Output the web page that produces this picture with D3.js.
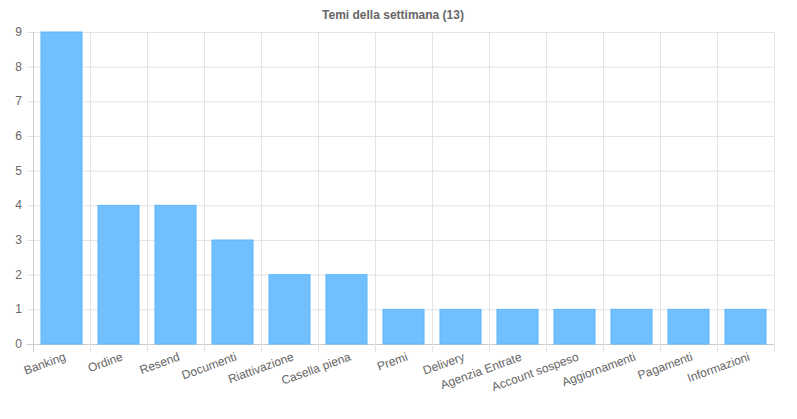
<!DOCTYPE html>
<html><head><meta charset="utf-8">
<script src="https://cdn.jsdelivr.net/npm/d3@7"></script>
<style>body{margin:0;background:#fff;font-family:"Liberation Sans",Arial,sans-serif}</style>
</head><body><svg id="c" width="797" height="419"></svg>
<script>
var categories = ['Banking','Ordine','Resend','Documenti','Riattivazione','Casella piena','Premi','Delivery','Agenzia Entrate','Account sospeso','Aggiornamenti','Pagamenti','Informazioni'];
var values = [9,4,4,3,2,2,1,1,1,1,1,1,1];
var yTicks = [0,1,2,3,4,5,6,7,8,9];

(function(){
var svg = d3.select('#c');
var plotLeft = 33, plotRight = 774, plotTop = 32, plotBottom = 344;
var x = d3.scaleBand().domain(categories).range([plotLeft, plotRight]).paddingInner(0.28).paddingOuter(0.14);
var xg = d3.scaleBand().domain(categories).range([plotLeft, plotRight]);
var y = d3.scaleLinear().domain([0, 9]).range([plotBottom, plotTop]);

svg.append('text').attr('x', 393).attr('y', 19).attr('text-anchor', 'middle')
  .attr('font-size', 12).attr('font-weight', 'bold').attr('fill', '#666').text('Temi della settimana (13)');

// horizontal grid
svg.selectAll('.hg').data(yTicks).enter().append('line')
  .attr('x1', plotLeft - 6).attr('x2', plotRight).attr('y1', d => y(d) + 0.5).attr('y2', d => y(d) + 0.5)
  .attr('stroke', d => d === 0 ? '#ccc' : '#e4e4e4');
// vertical grid
var vx = categories.map(c => xg(c)).concat([plotRight]);
svg.selectAll('.vg').data(vx).enter().append('line')
  .attr('x1', d => Math.round(d) + 0.5).attr('x2', d => Math.round(d) + 0.5)
  .attr('y1', plotTop).attr('y2', plotBottom + 8)
  .attr('stroke', (d, i) => i === 0 ? '#ccc' : '#e4e4e4');

svg.selectAll('.yt').data(yTicks).enter().append('text')
  .attr('x', plotLeft - 11).attr('y', d => y(d) + 4).attr('text-anchor', 'end')
  .attr('font-size', 12).attr('fill', '#666').text(d => d);

svg.selectAll('.bar').data(values).enter().append('rect')
  .attr('x', (d, i) => x(categories[i])).attr('width', x.bandwidth())
  .attr('y', d => y(d)).attr('height', d => plotBottom - y(d))
  .attr('fill', '#71c0fd').attr('stroke', '#5fb6fb').attr('stroke-width', 1);

svg.selectAll('.xl').data(categories).enter().append('text')
  .attr('transform', d => 'translate(' + (xg(d) + xg.bandwidth() / 2 + 5) + ',' + 360 + ') rotate(-20)')
  .attr('text-anchor', 'end').attr('font-size', 12).attr('fill', '#666').text(d => d);
})();
</script></body></html>
